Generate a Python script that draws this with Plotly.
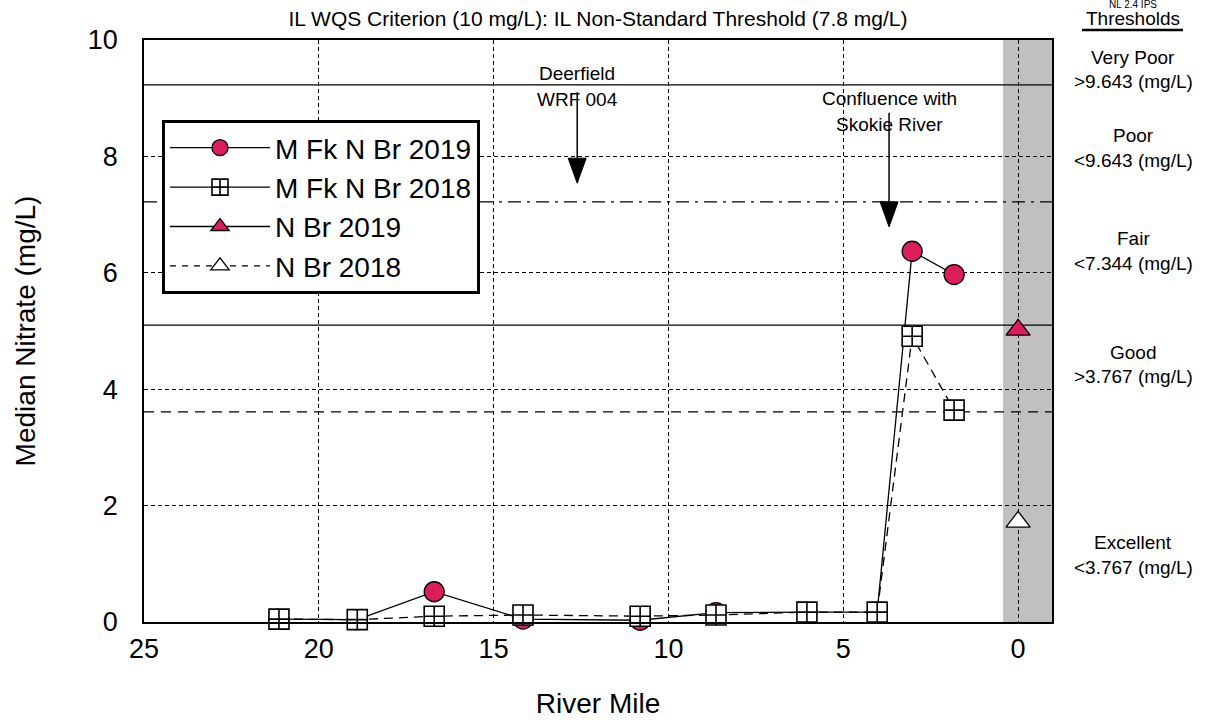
import plotly.graph_objects as go

# ---- data -------------------------------------------------------------
# Middle Fork North Branch sampling stations (river mile) and median nitrate
mfk_miles = [21.14, 18.9, 16.7, 14.16, 10.81, 8.64, 6.04, 4.03, 3.03, 1.83]
mfk_2019 = [0.05, 0.04, 0.52, 0.05, 0.03, 0.16, 0.17, 0.17, 6.37, 5.97]
mfk_2018 = [0.05, 0.04, 0.10, 0.12, 0.10, 0.12, 0.17, 0.17, 4.91, 3.64]

# North Branch station
nbr_miles = [0.0]
nbr_2019 = [5.02]
nbr_2018 = [1.72]

# horizontal reference levels (mg/L)
ref_solid = [9.23, 5.10]
ref_dashdot = [7.22]
ref_dashed = [3.61]

# IPS threshold classes shown on the right
threshold_names = ["Very Poor", "Poor", "Fair", "Good", "Excellent"]
threshold_texts = [">9.643 (mg/L)", "<9.643 (mg/L)", "<7.344 (mg/L)",
                   ">3.767 (mg/L)", "<3.767 (mg/L)"]

x_ticks = [25, 20, 15, 10, 5, 0]
y_ticks = [0, 2, 4, 6, 8, 10]

# ---- styling ----------------------------------------------------------
FONT = "Arial, 'Liberation Sans', sans-serif"
RED = "#dc1e5a"
W, H = 1219, 721
L, R, T, B = 144, 167, 40, 99
PW, PH = W - L - R, H - T - B
SMALL = 19


def ypaper(px):
    """Pixel row in the page -> paper coordinate."""
    return (H - B - px) / PH


def xpaper(px):
    """Pixel column in the page -> paper coordinate."""
    return (px - L) / PW


fig = go.Figure()

fig.add_trace(go.Scatter(
    x=mfk_miles, y=mfk_2019, name="M Fk N Br 2019", mode="lines+markers",
    line=dict(color="black", width=1.3),
    marker=dict(symbol="circle", size=20, color=RED,
                line=dict(color="black", width=1.3)),
    cliponaxis=False,
))
fig.add_trace(go.Scatter(
    x=mfk_miles, y=mfk_2018, name="M Fk N Br 2018", mode="lines+markers",
    line=dict(color="black", width=1.3, dash="9px,6px"),
    marker=dict(symbol="square-cross", size=20, color="white",
                line=dict(color="black", width=1.6)),
    cliponaxis=False, showlegend=False, legendgroup="mfk18",
))
# legend entry for the 2018 Middle Fork series
fig.add_trace(go.Scatter(
    x=[None], y=[None], name="M Fk N Br 2018", mode="lines+markers",
    line=dict(color="black", width=1.3),
    marker=dict(symbol="square-cross", size=20, color="white",
                line=dict(color="black", width=1.6)),
    legendgroup="mfk18",
))
fig.add_trace(go.Scatter(
    x=nbr_miles, y=nbr_2019, name="N Br 2019", mode="lines+markers",
    line=dict(color="black", width=1.3),
    marker=dict(symbol="triangle-up", size=21, color=RED,
                line=dict(color="black", width=1.3)),
    cliponaxis=False,
))
fig.add_trace(go.Scatter(
    x=nbr_miles, y=nbr_2018, name="N Br 2018", mode="lines+markers",
    line=dict(color="black", width=1.3, dash="6px,6px"),
    marker=dict(symbol="triangle-up", size=21, color="white",
                line=dict(color="black", width=1.3)),
    cliponaxis=False,
))

shapes = []
# shaded band at the North Branch station
shapes.append(dict(type="rect", xref="x", yref="paper", x0=0.43, x1=-0.97,
                   y0=0, y1=1, fillcolor="#c0c0c0", line=dict(width=0),
                   layer="below"))
for v in ref_solid:
    shapes.append(dict(type="line", xref="paper", yref="y", x0=0, x1=1,
                       y0=v, y1=v, line=dict(color="black", width=1.3),
                       layer="between"))
for v in ref_dashdot:
    shapes.append(dict(type="line", xref="paper", yref="y", x0=0, x1=1,
                       y0=v, y1=v,
                       line=dict(color="black", width=1.3,
                                 dash="13px,6px,3px,6px"),
                       layer="between"))
for v in ref_dashed:
    shapes.append(dict(type="line", xref="paper", yref="y", x0=0, x1=1,
                       y0=v, y1=v,
                       line=dict(color="black", width=1.3, dash="10px,7px"),
                       layer="between"))

# location arrows (shaft + filled head), sized in pixels from the tip
arrows = [
    dict(mile=12.61, val=7.54, shaft=66,
         lines=[("Deerfield", 110), ("WRF 004", 84)]),
    dict(mile=3.69, val=6.79, shaft=89,
         lines=[("Confluence with", 128), ("Skokie River", 102)]),
]
annotations = []
for a in arrows:
    shapes.append(dict(type="path", xref="x", yref="y",
                       xsizemode="pixel", ysizemode="pixel",
                       xanchor=a["mile"], yanchor=a["val"],
                       path=f"M0,25 L0,{25 + a['shaft']}",
                       line=dict(color="black", width=1.5)))
    shapes.append(dict(type="path", xref="x", yref="y",
                       xsizemode="pixel", ysizemode="pixel",
                       xanchor=a["mile"], yanchor=a["val"],
                       path="M0,0 L-9,25 L9,25 Z",
                       fillcolor="black", line=dict(color="black", width=1)))
    for txt, shift in a["lines"]:
        annotations.append(dict(x=a["mile"], y=a["val"], xref="x", yref="y",
                                text=txt, showarrow=False, yshift=shift,
                                xanchor="center", yanchor="middle",
                                font=dict(size=SMALL, color="black",
                                          family=FONT)))

# threshold labels at the right
XR = xpaper(1133)


def side_label(text, row, size=SMALL):
    annotations.append(dict(x=XR, y=ypaper(row), xref="paper", yref="paper",
                            text=text, showarrow=False,
                            xanchor="center", yanchor="middle",
                            font=dict(size=size, color="black", family=FONT)))


side_label("NL 2.4 IPS", 5, size=10)
side_label("Thresholds", 19)
shapes.append(dict(type="line", xref="paper", yref="paper",
                   x0=xpaper(1082), x1=xpaper(1183),
                   y0=ypaper(30), y1=ypaper(30),
                   line=dict(color="black", width=2.5)))
name_rows = [57, 135, 238, 352, 542]
for name, txt, row in zip(threshold_names, threshold_texts, name_rows):
    side_label(name, row)
    side_label(txt, row + 25)

axis_common = dict(
    showline=True, linecolor="black", linewidth=1.5, mirror=True,
    showgrid=True, gridcolor="black", gridwidth=1, griddash="4px,3px",
    zeroline=False, ticks="", automargin=False,
    tickfont=dict(size=27, color="black", family=FONT),
)

fig.update_layout(
    width=W, height=H,
    margin=dict(l=L, r=R, t=T, b=B, autoexpand=False),
    paper_bgcolor="white", plot_bgcolor="white",
    font=dict(family=FONT, color="black"),
    title=dict(text="IL WQS Criterion (10 mg/L): IL Non-Standard Threshold (7.8 mg/L)",
               x=0.5, xref="paper", y=1 - 19 / H, yref="container",
               xanchor="center", yanchor="middle",
               font=dict(size=21, color="black", family=FONT)),
    xaxis=dict(range=[25, -0.97], tickvals=x_ticks, ticklabelstandoff=2,
               title=dict(text="River Mile", standoff=30,
                          font=dict(size=28, color="black", family=FONT)),
               **axis_common),
    yaxis=dict(range=[0, 10], tickvals=y_ticks, ticklabelstandoff=19,
               title=dict(text="Median Nitrate (mg/L)", standoff=44,
                          font=dict(size=28, color="black", family=FONT)),
               **axis_common),
    legend=dict(x=xpaper(162), y=ypaper(120),
                xanchor="left", yanchor="top",
                bgcolor="white", bordercolor="black", borderwidth=3,
                font=dict(size=28, color="black", family=FONT),
                itemwidth=100, tracegroupgap=0),
    shapes=shapes,
    annotations=annotations,
    showlegend=True,
)

fig.write_html("out.html")
